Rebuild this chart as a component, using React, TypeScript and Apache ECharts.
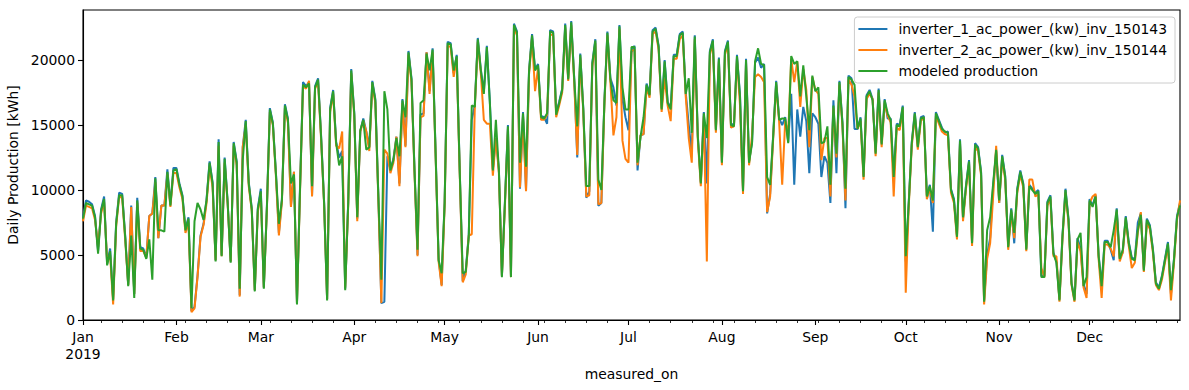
import React, { useEffect, useRef } from "react";
import * as echarts from "echarts";

// Daily production [kWh], 2019-01-01 .. 2019-12-31 (365 days)
const INVERTER_1: number[] = [
  // Jan
  7900, 9200, 9100, 8900, 8000, 5300, 8500, 9500, 4300, 5500, 1600, 7500, 9800, 9700, 6500, 2700, 8800, 2000, 9400, 5600, 5500, 4800, 8000, 8200, 11000, 6300, 8800, 8800, 11600, 8900, 11700,
  // Feb
  11700, 10500, 9600, 7000, 7900, 700, 1000, 3400, 6500, 7400, 9300, 12200, 10600, 4600, 13900, 5000, 12500, 9100, 4500, 13700, 12200, 1900, 13300, 15400, 10600, 8600, 2300, 8600,
  // Mar
  10100, 2500, 8600, 16300, 15200, 11400, 6700, 9300, 16600, 15500, 8800, 11400, 1300, 10100, 18300, 18000, 18300, 9600, 18000, 18600, 14200, 9100, 1600, 16300, 17700, 13700, 12500, 13000, 2400, 9100, 19300,
  // Apr
  16000, 7800, 14500, 15500, 14500, 13300, 18400, 17000, 9600, 1300, 1400, 12600, 11600, 12400, 14100, 10500, 17000, 13400, 20700, 18600, 11600, 5000, 15800, 15900, 20600, 17600, 20900, 12900, 4700, 2700,
  // May
  9100, 21400, 21300, 19000, 20400, 11600, 3000, 3800, 6600, 15400, 16500, 21700, 19300, 17500, 21100, 16800, 11600, 14000, 11600, 3400, 9100, 15000, 3400, 22800, 22200, 10100, 16000, 10000, 19200, 22000, 19300,
  // Jun
  19700, 15700, 15600, 15100, 22300, 22200, 15900, 16800, 17800, 22800, 18600, 23000, 18600, 12500, 20500, 16300, 9400, 9900, 19800, 21600, 8800, 9000, 16800, 22200, 18600, 17900, 16500, 22700, 17000, 15600,
  // Jul
  14600, 20600, 21100, 11500, 14200, 14300, 18200, 17400, 22300, 22500, 21100, 16300, 20000, 16800, 16300, 20400, 20400, 22000, 22200, 17500, 15000, 12800, 21900, 14200, 10600, 16000, 10500, 20700, 21600, 14700, 20200,
  // Aug
  12200, 20700, 21500, 15100, 15000, 20400, 17300, 10000, 20100, 12200, 13700, 19800, 20200, 19400, 19700, 8200, 9700, 14200, 18400, 15500, 15000, 15600, 13700, 17400, 10400, 16200, 14100, 16400, 15300, 11300, 15900,
  // Sep
  15600, 15100, 11000, 12600, 12100, 9000, 16900, 11300, 18400, 15200, 8600, 18800, 18600, 14700, 14700, 15600, 11100, 17300, 17700, 17000, 12900, 17800, 13600, 17000, 15500, 15500, 11100, 15100, 15000, 16500,
  // Oct
  4500, 9100, 13700, 16000, 13400, 15600, 15700, 9600, 10400, 6800, 16000, 15400, 14800, 14400, 14500, 10100, 9300, 6500, 13900, 7800, 10400, 12300, 6000, 13600, 13300, 11400, 1500, 5000, 6300, 10300, 13000,
  // Nov
  9000, 12700, 11100, 5700, 8600, 5900, 10100, 11500, 10500, 5500, 10400, 10100, 9800, 10000, 3400, 3400, 9100, 9600, 5200, 4500, 1600, 6500, 10100, 7800, 2900, 1600, 6300, 5500, 2700, 2000,
  // Dec
  9300, 8800, 9600, 5000, 2700, 6100, 6100, 5400, 4600, 8600, 4800, 5200, 8000, 6000, 4800, 4700, 7500, 8200, 3900, 7800, 7300, 5500, 2900, 2500, 3400, 4700, 6000, 2000, 4700, 8000, 9000,
];

const INVERTER_2: number[] = [
  // Jan
  7600, 8800, 8700, 8600, 7700, 5600, 8200, 9100, 4500, 5000, 1200, 7200, 9500, 9400, 6200, 2700, 8700, 2000, 9000, 5300, 5300, 4800, 8000, 8200, 10600, 6300, 8800, 8800, 11200, 8700, 11300,
  // Feb
  11300, 10200, 9300, 6700, 7500, 600, 900, 3300, 6400, 7300, 9000, 11800, 10200, 4600, 13400, 4900, 12100, 8900, 4500, 13400, 11900, 1800, 13300, 15000, 10300, 8400, 2300, 8300,
  // Mar
  9700, 2500, 8400, 16000, 15000, 11100, 6500, 9100, 16300, 15200, 8700, 11400, 1300, 9800, 18000, 17800, 18400, 9500, 17800, 18300, 13900, 8900, 1600, 16000, 17400, 13400, 13200, 14500, 2500, 8800, 19000,
  // Apr
  15700, 7600, 14500, 15300, 14500, 13000, 18100, 16700, 9300, 1300, 13100, 12800, 11300, 12100, 14100, 10300, 16700, 13300, 20400, 18300, 11300, 4900, 15600, 15700, 20600, 17400, 20600, 12600, 4500, 2600,
  // May
  8800, 21100, 21000, 18700, 20100, 11300, 2900, 3500, 6500, 6600, 16300, 21400, 19000, 15400, 15100, 15100, 11100, 14000, 11300, 3400, 8800, 14700, 3300, 22500, 21900, 10200, 15700, 9900, 18900, 21700, 17600,
  // Jun
  19400, 15400, 15400, 15800, 22000, 21900, 15600, 16500, 17500, 22500, 18400, 22700, 18300, 12700, 20200, 16000, 9500, 9600, 19500, 21300, 8900, 9000, 16500, 21900, 18300, 14200, 15600, 22400, 13800, 12400,
  // Jul
  12100, 20700, 20800, 11900, 14200, 14300, 17900, 17100, 22000, 22200, 20800, 16000, 18600, 16500, 15300, 20100, 20100, 21600, 21900, 17200, 14000, 12100, 21600, 13900, 10300, 15700, 4500, 20400, 21300, 14400, 19900,
  // Aug
  11900, 20400, 21200, 14800, 14900, 20100, 16500, 9700, 19800, 11900, 14200, 18700, 18900, 18700, 18300, 8300, 9500, 13900, 18100, 15200, 10400, 15300, 14400, 20100, 18300, 19900, 16400, 19300, 17700, 13300, 18700,
  // Sep
  17700, 17400, 12300, 14000, 14000, 9500, 16300, 12500, 18100, 14900, 9200, 18500, 18100, 17200, 14700, 15300, 10800, 17000, 17400, 17000, 12600, 17500, 13300, 16700, 15700, 15200, 9500, 14800, 14600, 16200,
  // Oct
  2100, 8800, 13400, 15700, 13100, 15300, 15600, 9300, 10100, 9000, 15700, 15100, 14500, 14300, 14200, 9800, 9000, 6200, 13600, 7600, 10100, 12000, 5700, 13300, 13000, 11100, 1200, 4700, 5900, 9500, 13400,
  // Nov
  9000, 12400, 10800, 5400, 8300, 6300, 9800, 11200, 10200, 5300, 10800, 10800, 9500, 9700, 4000, 3300, 8800, 9300, 4900, 4900, 1400, 6200, 9800, 7500, 2700, 1400, 6000, 5300, 2500, 1700,
  // Dec
  9000, 9500, 9700, 4700, 1700, 5800, 5800, 5500, 4900, 8300, 4500, 5200, 7700, 5700, 4000, 4400, 6700, 8300, 3700, 7500, 7000, 5200, 2700, 2300, 3100, 4400, 5700, 1500, 4400, 7700, 9200,
];

const MODELED: number[] = [
  // Jan
  7800, 9000, 8900, 8800, 7900, 5100, 8400, 9300, 4200, 5300, 1500, 7400, 9600, 9600, 6400, 2600, 6500, 1700, 9200, 5500, 5400, 4700, 6200, 3100, 10900, 6900, 6900, 6800, 11400, 8800, 11500,
  // Feb
  11600, 10400, 9500, 6900, 7800, 900, 7600, 9000, 8500, 7700, 9200, 12100, 10500, 4500, 13700, 4900, 12400, 9000, 4400, 13600, 12100, 2400, 12300, 15300, 10500, 8500, 2200, 8500,
  // Mar
  9900, 2400, 8500, 16200, 15100, 11300, 7400, 9200, 16500, 15400, 10500, 11200, 1200, 10000, 18100, 17900, 18200, 10300, 17900, 18500, 14100, 9000, 1500, 16200, 17600, 13600, 11900, 12600, 2300, 9000, 19200,
  // Apr
  15900, 7900, 14600, 15400, 13100, 13300, 18300, 16900, 9500, 3100, 17600, 16200, 11500, 12300, 14000, 12600, 16900, 15600, 20600, 18500, 11500, 5400, 16700, 16900, 20500, 19200, 20800, 12800, 4600, 3600,
  // May
  9000, 21300, 21200, 19200, 20300, 11500, 3600, 3700, 6400, 16500, 16400, 21600, 19200, 17400, 21000, 16700, 11500, 15400, 11500, 3300, 9000, 14900, 3300, 22700, 22100, 12100, 15900, 11800, 19100, 21900, 19200,
  // Jun
  19600, 15600, 15500, 15900, 22200, 22100, 15800, 16700, 17700, 22700, 18500, 22900, 18500, 14900, 20400, 16200, 10300, 10300, 19700, 21500, 10800, 10000, 16700, 22100, 18500, 16900, 16700, 22600, 17900, 16200,
  // Jul
  16200, 21000, 21000, 12100, 14100, 15600, 18100, 17300, 22200, 22400, 21000, 16200, 19900, 16700, 16200, 20300, 20300, 21900, 22100, 17400, 18600, 14400, 21800, 14100, 10500, 15900, 14000, 20600, 21500, 14600, 20100,
  // Aug
  12100, 20600, 21400, 15000, 14900, 20300, 17200, 9900, 20000, 12100, 13600, 19900, 20900, 19700, 19600, 11000, 10400, 14100, 18300, 15400, 15500, 15500, 13600, 20300, 19700, 19900, 17200, 19600, 17200, 14600, 18800,
  // Sep
  17600, 17900, 13600, 13700, 14900, 10400, 16500, 12800, 18300, 15100, 10100, 18700, 18500, 18100, 14700, 15500, 11000, 17200, 17600, 16900, 12800, 17700, 13500, 16900, 15900, 15400, 11000, 15000, 14900, 16400,
  // Oct
  4900, 9000, 13600, 15900, 13300, 15500, 15600, 9500, 10300, 9200, 15900, 15300, 14700, 14500, 14400, 10000, 9200, 6400, 13800, 7900, 10300, 12200, 5900, 13500, 13200, 11300, 1400, 6900, 7900, 10500, 13100,
  // Nov
  9200, 12600, 11000, 5600, 8500, 6700, 10000, 11400, 10400, 5400, 10300, 10000, 9700, 9900, 3300, 3300, 9000, 9500, 5100, 4400, 1500, 6400, 10000, 7700, 2800, 1500, 6200, 6700, 2600, 3300,
  // Dec
  9200, 8700, 9500, 4900, 2600, 6000, 6000, 5600, 6900, 8500, 4700, 5400, 7900, 5900, 4700, 4600, 6900, 8100, 3800, 7700, 7200, 5400, 2800, 2400, 3300, 4600, 5900, 2300, 4600, 7900, 8800,
];

const SERIES_NAMES = [
  "inverter_1_ac_power_(kw)_inv_150143",
  "inverter_2_ac_power_(kw)_inv_150144",
  "modeled production",
];
const COLORS = ["#1f77b4", "#ff7f0e", "#2ca02c"];
const MONTH_LABELS = ["Jan\n2019", "Feb", "Mar", "Apr", "May", "Jun", "Jul", "Aug", "Sep", "Oct", "Nov", "Dec"];
const Y_TICKS = [0, 5000, 10000, 15000, 20000];
const START_YEAR = 2019;
const DAY_COUNT = 365;

const pad = (n: number) => (n < 10 ? "0" + n : String(n));

const DATES: string[] = [];
const MONTH_START = new Set<number>();
const MONDAYS = new Set<number>();
for (let i = 0; i < DAY_COUNT; i++) {
  const d = new Date(Date.UTC(START_YEAR, 0, 1 + i));
  DATES.push(`${d.getUTCFullYear()}-${pad(d.getUTCMonth() + 1)}-${pad(d.getUTCDate())}`);
  if (d.getUTCDate() === 1) MONTH_START.add(i);
  else if (d.getUTCDay() === 1) MONDAYS.add(i);
}

const FONT = "DejaVu Sans";

export default function App() {
  const ref = useRef<HTMLDivElement>(null);
  useEffect(() => {
    if (!ref.current) return;
    const chart = echarts.init(ref.current, undefined, { renderer: "svg" });
    const seriesData = [INVERTER_1, INVERTER_2, MODELED];
    chart.setOption({
      animation: false,
      backgroundColor: "#ffffff",
      textStyle: { fontFamily: FONT, color: "#000" },
      grid: {
        left: 83,
        right: 9,
        top: 10,
        bottom: 70,
        show: true,
        borderColor: "#000",
        borderWidth: 1.1,
        backgroundColor: "transparent",
        outerBoundsMode: "none",
      },
      legend: {
        orient: "vertical",
        right: 14,
        top: 17,
        icon: "rect",
        itemWidth: 29,
        itemHeight: 2,
        itemGap: 5,
        padding: [4, 8, 4, 4],
        borderColor: "#cccccc",
        borderWidth: 1,
        borderRadius: 3,
        backgroundColor: "rgba(255,255,255,0.8)",
        textStyle: { fontFamily: FONT, fontSize: 13.9, color: "#000", lineHeight: 16, padding: [0, 0, 0, 6] },
        data: SERIES_NAMES,
      },
      xAxis: [
        {
          type: "category",
          data: DATES,
          boundaryGap: false,
          name: "measured_on",
          nameLocation: "middle",
          nameGap: 43,
          nameTextStyle: { fontFamily: FONT, fontSize: 13.9, color: "#000" },
          axisLine: { show: true, lineStyle: { color: "#000", width: 1.1 } },
          axisTick: {
            show: true,
            length: 5,
            interval: (i: number) => MONTH_START.has(i),
            lineStyle: { color: "#000", width: 1.1 },
          },
          axisLabel: {
            show: true,
            interval: (i: number) => MONTH_START.has(i),
            formatter: (v: string) => MONTH_LABELS[parseInt(v.slice(5, 7), 10) - 1],
            fontFamily: FONT,
            fontSize: 13.9,
            color: "#000",
            margin: 8,
            lineHeight: 17,
          },
          splitLine: { show: false },
        },
        {
          type: "category",
          data: DATES,
          boundaryGap: false,
          position: "bottom",
          axisLine: { show: false },
          axisTick: {
            show: true,
            length: 3,
            interval: (i: number) => MONDAYS.has(i),
            lineStyle: { color: "#000", width: 0.8 },
          },
          axisLabel: { show: false },
          splitLine: { show: false },
        },
      ],
      yAxis: {
        type: "value",
        min: 0,
        max: 23850,
        name: "Daily Production [kWh]",
        nameLocation: "middle",
        nameRotate: 90,
        nameGap: 50,
        nameTextStyle: { fontFamily: FONT, fontSize: 13.9, color: "#000" },
        axisLine: { show: true, lineStyle: { color: "#000", width: 1.1 } },
        axisTick: { show: true, length: 5, customValues: Y_TICKS, lineStyle: { color: "#000", width: 1.1 } },
        axisLabel: {
          customValues: Y_TICKS,
          formatter: (v: number) => String(v),
          fontFamily: FONT,
          fontSize: 13.9,
          color: "#000",
          margin: 8,
        },
        splitLine: { show: false },
      },
      series: SERIES_NAMES.map((name, k) => ({
        name,
        type: "line",
        data: seriesData[k],
        xAxisIndex: 0,
        showSymbol: false,
        symbol: "none",
        color: COLORS[k],
        lineStyle: { color: COLORS[k], width: 2 },
        emphasis: { disabled: true },
      })),
    });
    return () => chart.dispose();
  }, []);
  return <div ref={ref} style={{ position: "fixed", left: 0, top: 0, width: 1189, height: 390 }} />;
}
